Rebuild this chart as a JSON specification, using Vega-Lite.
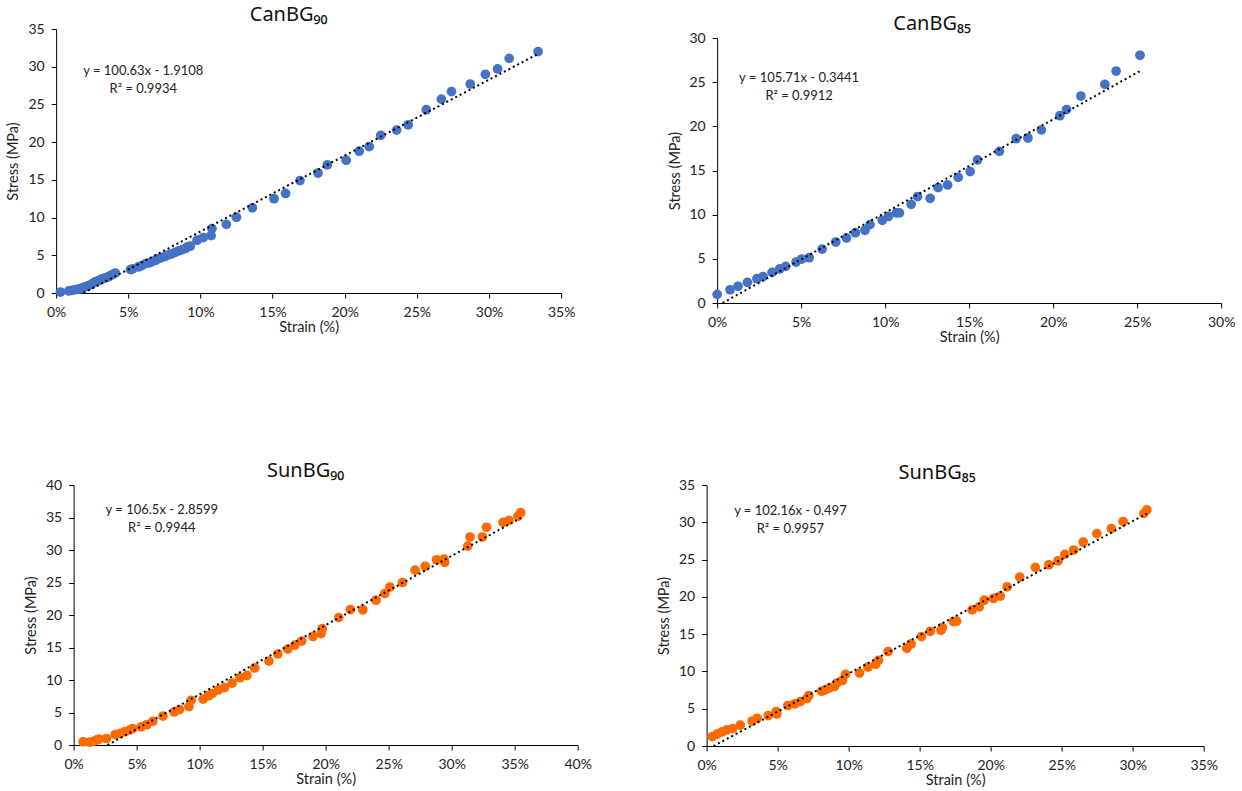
{
  "$schema": "https://vega.github.io/schema/vega-lite/v6.json",
  "background": "white",
  "padding": {"left": 5, "top": 4, "right": 5, "bottom": 0},
  "datasets": {
    "can90": [
      {"strain": 0.003, "stress": 0.13}, {"strain": 0.0088, "stress": 0.27}, {"strain": 0.011, "stress": 0.35}, {"strain": 0.0134, "stress": 0.44},
      {"strain": 0.0155, "stress": 0.5}, {"strain": 0.017, "stress": 0.58}, {"strain": 0.0185, "stress": 0.68}, {"strain": 0.02, "stress": 0.8},
      {"strain": 0.022, "stress": 0.95}, {"strain": 0.024, "stress": 1.1}, {"strain": 0.0255, "stress": 1.28}, {"strain": 0.027, "stress": 1.46},
      {"strain": 0.029, "stress": 1.62}, {"strain": 0.0307, "stress": 1.77}, {"strain": 0.032, "stress": 1.88}, {"strain": 0.034, "stress": 2.0},
      {"strain": 0.036, "stress": 2.15}, {"strain": 0.0376, "stress": 2.3}, {"strain": 0.039, "stress": 2.45}, {"strain": 0.041, "stress": 2.65},
      {"strain": 0.0515, "stress": 3.1}, {"strain": 0.053, "stress": 3.2}, {"strain": 0.057, "stress": 3.45}, {"strain": 0.059, "stress": 3.6},
      {"strain": 0.062, "stress": 3.9}, {"strain": 0.0645, "stress": 4.0}, {"strain": 0.0665, "stress": 4.16}, {"strain": 0.069, "stress": 4.35},
      {"strain": 0.071, "stress": 4.56}, {"strain": 0.073, "stress": 4.7}, {"strain": 0.0757, "stress": 4.87}, {"strain": 0.078, "stress": 5.05},
      {"strain": 0.08, "stress": 5.2}, {"strain": 0.0825, "stress": 5.4}, {"strain": 0.085, "stress": 5.6}, {"strain": 0.0875, "stress": 5.75},
      {"strain": 0.0896, "stress": 5.9}, {"strain": 0.091, "stress": 6.1}, {"strain": 0.093, "stress": 6.2}, {"strain": 0.0977, "stress": 7.0},
      {"strain": 0.102, "stress": 7.35}, {"strain": 0.1074, "stress": 7.6}, {"strain": 0.108, "stress": 8.54}, {"strain": 0.118, "stress": 9.1},
      {"strain": 0.125, "stress": 10.05}, {"strain": 0.136, "stress": 11.3}, {"strain": 0.151, "stress": 12.5}, {"strain": 0.159, "stress": 13.2},
      {"strain": 0.169, "stress": 14.9}, {"strain": 0.1815, "stress": 15.9}, {"strain": 0.188, "stress": 17.0}, {"strain": 0.201, "stress": 17.6},
      {"strain": 0.21, "stress": 18.8}, {"strain": 0.217, "stress": 19.4}, {"strain": 0.225, "stress": 20.9}, {"strain": 0.236, "stress": 21.6},
      {"strain": 0.244, "stress": 22.3}, {"strain": 0.2565, "stress": 24.3}, {"strain": 0.267, "stress": 25.7}, {"strain": 0.274, "stress": 26.7},
      {"strain": 0.287, "stress": 27.7}, {"strain": 0.2975, "stress": 29.0}, {"strain": 0.306, "stress": 29.7}, {"strain": 0.314, "stress": 31.1},
      {"strain": 0.334, "stress": 32.0}
    ],
    "can90trend": [{"strain": 0.019, "stress": 0}, {"strain": 0.334, "stress": 31.7}],
    "can85": [
      {"strain": 0.0, "stress": 0.98}, {"strain": 0.0077, "stress": 1.5}, {"strain": 0.0124, "stress": 1.89}, {"strain": 0.018, "stress": 2.34},
      {"strain": 0.0237, "stress": 2.75}, {"strain": 0.0273, "stress": 3.0}, {"strain": 0.0327, "stress": 3.47}, {"strain": 0.0372, "stress": 3.85},
      {"strain": 0.0408, "stress": 4.15}, {"strain": 0.047, "stress": 4.64}, {"strain": 0.0503, "stress": 4.98}, {"strain": 0.0548, "stress": 5.13},
      {"strain": 0.0625, "stress": 6.1}, {"strain": 0.0706, "stress": 6.9}, {"strain": 0.077, "stress": 7.36}, {"strain": 0.0823, "stress": 7.96},
      {"strain": 0.088, "stress": 8.23}, {"strain": 0.091, "stress": 8.87}, {"strain": 0.0983, "stress": 9.36}, {"strain": 0.102, "stress": 9.8},
      {"strain": 0.1067, "stress": 10.2}, {"strain": 0.1085, "stress": 10.2}, {"strain": 0.1155, "stress": 11.17}, {"strain": 0.1193, "stress": 12.04},
      {"strain": 0.1268, "stress": 11.85}, {"strain": 0.1315, "stress": 13.06}, {"strain": 0.1372, "stress": 13.36}, {"strain": 0.1435, "stress": 14.23},
      {"strain": 0.1506, "stress": 14.87}, {"strain": 0.155, "stress": 16.2}, {"strain": 0.168, "stress": 17.17}, {"strain": 0.178, "stress": 18.6},
      {"strain": 0.185, "stress": 18.68}, {"strain": 0.193, "stress": 19.6}, {"strain": 0.204, "stress": 21.2}, {"strain": 0.208, "stress": 21.9},
      {"strain": 0.2165, "stress": 23.43}, {"strain": 0.2308, "stress": 24.75}, {"strain": 0.2375, "stress": 26.26}, {"strain": 0.2517, "stress": 28.04}
    ],
    "can85trend": [{"strain": 0.0033, "stress": 0}, {"strain": 0.2517, "stress": 26.26}],
    "sun90": [
      {"strain": 0.0076, "stress": 0.5}, {"strain": 0.0128, "stress": 0.43}, {"strain": 0.0164, "stress": 0.61}, {"strain": 0.0185, "stress": 0.77},
      {"strain": 0.02, "stress": 0.92}, {"strain": 0.026, "stress": 1.0}, {"strain": 0.033, "stress": 1.6}, {"strain": 0.0372, "stress": 1.8},
      {"strain": 0.041, "stress": 2.07}, {"strain": 0.0445, "stress": 2.3}, {"strain": 0.0468, "stress": 2.53}, {"strain": 0.0536, "stress": 2.8},
      {"strain": 0.058, "stress": 3.12}, {"strain": 0.0628, "stress": 3.63}, {"strain": 0.0709, "stress": 4.46}, {"strain": 0.0798, "stress": 5.08},
      {"strain": 0.084, "stress": 5.44}, {"strain": 0.0915, "stress": 5.91}, {"strain": 0.0933, "stress": 6.88}, {"strain": 0.1028, "stress": 7.05},
      {"strain": 0.107, "stress": 7.58}, {"strain": 0.11, "stress": 7.9}, {"strain": 0.115, "stress": 8.48}, {"strain": 0.1197, "stress": 8.82},
      {"strain": 0.1258, "stress": 9.53}, {"strain": 0.132, "stress": 10.35}, {"strain": 0.1375, "stress": 10.7}, {"strain": 0.1437, "stress": 11.85},
      {"strain": 0.155, "stress": 12.9}, {"strain": 0.162, "stress": 14.0}, {"strain": 0.17, "stress": 14.75}, {"strain": 0.1756, "stress": 15.36},
      {"strain": 0.181, "stress": 16.0}, {"strain": 0.19, "stress": 16.7}, {"strain": 0.1964, "stress": 17.15}, {"strain": 0.1973, "stress": 17.9},
      {"strain": 0.2104, "stress": 19.6}, {"strain": 0.2196, "stress": 20.84}, {"strain": 0.2295, "stress": 20.8}, {"strain": 0.24, "stress": 22.27},
      {"strain": 0.247, "stress": 23.3}, {"strain": 0.251, "stress": 24.3}, {"strain": 0.261, "stress": 25.0}, {"strain": 0.271, "stress": 26.9},
      {"strain": 0.279, "stress": 27.5}, {"strain": 0.288, "stress": 28.5}, {"strain": 0.294, "stress": 28.6}, {"strain": 0.2945, "stress": 28.1},
      {"strain": 0.3128, "stress": 30.6}, {"strain": 0.3146, "stress": 32.0}, {"strain": 0.3244, "stress": 32.0}, {"strain": 0.3277, "stress": 33.5},
      {"strain": 0.3408, "stress": 34.25}, {"strain": 0.3455, "stress": 34.56}, {"strain": 0.3527, "stress": 35.2}, {"strain": 0.3548, "stress": 35.74}
    ],
    "sun90trend": [{"strain": 0.0269, "stress": 0}, {"strain": 0.355, "stress": 34.95}],
    "sun85": [
      {"strain": 0.004, "stress": 1.26}, {"strain": 0.0075, "stress": 1.6}, {"strain": 0.0108, "stress": 1.88}, {"strain": 0.014, "stress": 2.15},
      {"strain": 0.0183, "stress": 2.33}, {"strain": 0.0237, "stress": 2.8}, {"strain": 0.032, "stress": 3.35}, {"strain": 0.0355, "stress": 3.72},
      {"strain": 0.0434, "stress": 4.08}, {"strain": 0.049, "stress": 4.62}, {"strain": 0.0495, "stress": 4.3}, {"strain": 0.0572, "stress": 5.43},
      {"strain": 0.062, "stress": 5.65}, {"strain": 0.066, "stress": 5.96}, {"strain": 0.0707, "stress": 6.37}, {"strain": 0.072, "stress": 6.77},
      {"strain": 0.081, "stress": 7.35}, {"strain": 0.0836, "stress": 7.53}, {"strain": 0.0863, "stress": 7.76}, {"strain": 0.09, "stress": 7.98},
      {"strain": 0.0916, "stress": 8.43}, {"strain": 0.0956, "stress": 8.79}, {"strain": 0.0978, "stress": 9.6}, {"strain": 0.1077, "stress": 9.78},
      {"strain": 0.1136, "stress": 10.58}, {"strain": 0.119, "stress": 10.94}, {"strain": 0.121, "stress": 11.48}, {"strain": 0.1278, "stress": 12.65},
      {"strain": 0.141, "stress": 13.1}, {"strain": 0.144, "stress": 13.68}, {"strain": 0.1513, "stress": 14.66}, {"strain": 0.1575, "stress": 15.38},
      {"strain": 0.165, "stress": 15.5}, {"strain": 0.166, "stress": 15.87}, {"strain": 0.1738, "stress": 16.68}, {"strain": 0.176, "stress": 16.73},
      {"strain": 0.187, "stress": 18.25}, {"strain": 0.192, "stress": 18.65}, {"strain": 0.1955, "stress": 19.55}, {"strain": 0.202, "stress": 19.78},
      {"strain": 0.2068, "stress": 20.1}, {"strain": 0.2116, "stress": 21.35}, {"strain": 0.2205, "stress": 22.65}, {"strain": 0.2315, "stress": 23.95},
      {"strain": 0.241, "stress": 24.3}, {"strain": 0.2475, "stress": 24.84}, {"strain": 0.2523, "stress": 25.7}, {"strain": 0.2585, "stress": 26.28},
      {"strain": 0.2652, "stress": 27.35}, {"strain": 0.2748, "stress": 28.48}, {"strain": 0.285, "stress": 29.15}, {"strain": 0.2933, "stress": 30.1},
      {"strain": 0.308, "stress": 31.2}, {"strain": 0.31, "stress": 31.66}
    ],
    "sun85trend": [{"strain": 0.0049, "stress": 0}, {"strain": 0.31, "stress": 31.17}]
  },
  "vconcat": [
    {
      "hconcat": [
        {"vconcat": [
        {"width": 505, "height": 1, "data": {"values": []}, "mark": {"type": "point"}, "encoding": {}},
        {
          "width": 505, "height": 264,
          "title": {"text": "CanBG₉₀", "dx": -20, "offset": -3},
          "layer": [
            {"data": {"name": "can90"}, "mark": {"type": "circle", "size": 95, "opacity": 1, "color": "#4472C4"},
             "encoding": {
               "x": {"field": "strain", "type": "quantitative", "scale": {"domain": [0, 0.35], "nice": false}, "axis": {"values": [0, 0.05, 0.1, 0.15, 0.2, 0.25, 0.3, 0.35], "format": ".0%", "title": "Strain (%)", "labelOverlap": false}},
               "y": {"field": "stress", "type": "quantitative", "scale": {"domain": [0, 35], "nice": false}, "axis": {"values": [0, 5, 10, 15, 20, 25, 30, 35], "title": "Stress (MPa)", "labelOverlap": false, "tickCount": 8}}
             }},
            {"data": {"name": "can90trend"}, "mark": {"type": "line", "color": "#000", "strokeWidth": 2, "strokeDash": [2, 3], "clip": true},
             "encoding": {"x": {"field": "strain", "type": "quantitative"}, "y": {"field": "stress", "type": "quantitative"}}},
            {"data": {"values": [{"label": "y = 100.63x - 1.9108\nR² = 0.9934"}]}, "mark": {"type": "text", "lineBreak": "\n", "align": "center", "baseline": "middle", "fontSize": 13, "lineHeight": 18, "color": "#222"},
             "encoding": {"x": {"datum": 0.0604, "type": "quantitative"}, "y": {"datum": 29.4, "type": "quantitative"}, "text": {"field": "label"}}}
          ]
        }], "spacing": 0},
        {"vconcat": [
        {"width": 504, "height": 10, "data": {"values": []}, "mark": {"type": "point"}, "encoding": {}},
        {
          "width": 504, "height": 265,
          "title": {"text": "CanBG₈₅", "dx": -37, "offset": -3},
          "layer": [
            {"data": {"name": "can85"}, "mark": {"type": "circle", "size": 95, "opacity": 1, "color": "#4472C4"},
             "encoding": {
               "x": {"field": "strain", "type": "quantitative", "scale": {"domain": [0, 0.3], "nice": false}, "axis": {"values": [0, 0.05, 0.1, 0.15, 0.2, 0.25, 0.3], "format": ".0%", "title": "Strain (%)", "labelOverlap": false}},
               "y": {"field": "stress", "type": "quantitative", "scale": {"domain": [0, 30], "nice": false}, "axis": {"values": [0, 5, 10, 15, 20, 25, 30], "title": "Stress (MPa)", "titlePadding": 6, "labelOverlap": false, "tickCount": 7}}
             }},
            {"data": {"name": "can85trend"}, "mark": {"type": "line", "color": "#000", "strokeWidth": 2, "strokeDash": [2, 3], "clip": true},
             "encoding": {"x": {"field": "strain", "type": "quantitative"}, "y": {"field": "stress", "type": "quantitative"}}},
            {"data": {"values": [{"label": "y = 105.71x - 0.3441\nR² = 0.9912"}]}, "mark": {"type": "text", "lineBreak": "\n", "align": "center", "baseline": "middle", "fontSize": 13, "lineHeight": 18, "color": "#222"},
             "encoding": {"x": {"datum": 0.0488, "type": "quantitative"}, "y": {"datum": 25.5, "type": "quantitative"}, "text": {"field": "label"}}}
          ]
        }], "spacing": 0}
      ],
      "spacing": 92
    },
    {
      "hconcat": [
        {
          "width": 504, "height": 260,
          "title": {"text": "SunBG₉₀", "dx": -20, "offset": -3},
          "layer": [
            {"data": {"name": "sun90"}, "mark": {"type": "circle", "size": 95, "opacity": 1, "color": "#FF6A00"},
             "encoding": {
               "x": {"field": "strain", "type": "quantitative", "scale": {"domain": [0, 0.4], "nice": false}, "axis": {"values": [0, 0.05, 0.1, 0.15, 0.2, 0.25, 0.3, 0.35, 0.4], "format": ".0%", "title": "Strain (%)", "labelOverlap": false}},
               "y": {"field": "stress", "type": "quantitative", "scale": {"domain": [0, 40], "nice": false}, "axis": {"values": [0, 5, 10, 15, 20, 25, 30, 35, 40], "title": "Stress (MPa)", "labelOverlap": false, "tickCount": 9}}
             }},
            {"data": {"name": "sun90trend"}, "mark": {"type": "line", "color": "#000", "strokeWidth": 2, "strokeDash": [2, 3], "clip": true},
             "encoding": {"x": {"field": "strain", "type": "quantitative"}, "y": {"field": "stress", "type": "quantitative"}}},
            {"data": {"values": [{"label": "y = 106.5x - 2.8599\nR² = 0.9944"}]}, "mark": {"type": "text", "lineBreak": "\n", "align": "center", "baseline": "middle", "fontSize": 13, "lineHeight": 18, "color": "#222"},
             "encoding": {"x": {"datum": 0.07, "type": "quantitative"}, "y": {"datum": 36.2, "type": "quantitative"}, "text": {"field": "label"}}}
          ]
        },
        {
          "width": 497, "height": 261,
          "title": {"text": "SunBG₈₅", "dx": -18, "offset": -5},
          "layer": [
            {"data": {"name": "sun85"}, "mark": {"type": "circle", "size": 95, "opacity": 1, "color": "#FF6A00"},
             "encoding": {
               "x": {"field": "strain", "type": "quantitative", "scale": {"domain": [0, 0.35], "nice": false}, "axis": {"values": [0, 0.05, 0.1, 0.15, 0.2, 0.25, 0.3, 0.35], "format": ".0%", "title": "Strain (%)", "labelOverlap": false}},
               "y": {"field": "stress", "type": "quantitative", "scale": {"domain": [0, 35], "nice": false}, "axis": {"values": [0, 5, 10, 15, 20, 25, 30, 35], "title": "Stress (MPa)", "labelOverlap": false, "tickCount": 8}}
             }},
            {"data": {"name": "sun85trend"}, "mark": {"type": "line", "color": "#000", "strokeWidth": 2, "strokeDash": [2, 3], "clip": true},
             "encoding": {"x": {"field": "strain", "type": "quantitative"}, "y": {"field": "stress", "type": "quantitative"}}},
            {"data": {"values": [{"label": "y = 102.16x - 0.497\nR² = 0.9957"}]}, "mark": {"type": "text", "lineBreak": "\n", "align": "center", "baseline": "middle", "fontSize": 13, "lineHeight": 18, "color": "#222"},
             "encoding": {"x": {"datum": 0.059, "type": "quantitative"}, "y": {"datum": 31.5, "type": "quantitative"}, "text": {"field": "label"}}}
          ]
        }
      ],
      "spacing": 64
    }
  ],
  "spacing": 117,
  "center": true,
  "config": {
    "view": {"stroke": null},
    "font": "Lato",
    "axis": {
      "grid": false, "domainColor": "#000", "domainWidth": 1, "tickColor": "#000", "tickSize": 5, "tickWidth": 1,
      "labelColor": "#222", "titleColor": "#222", "labelFontSize": 14, "titleFontSize": 14.5, "titleFontWeight": "normal",
      "labelFont": "Lato", "titleFont": "Lato", "labelFlush": false, "labelOverlap": false
    },
    "axisX": {"labelPadding": 7, "titlePadding": 1},
    "axisY": {"labelPadding": 7, "titlePadding": 7},
    "title": {"font": "Noto Sans", "fontSize": 20, "fontWeight": "normal", "color": "#111", "anchor": "middle"}
  }
}
